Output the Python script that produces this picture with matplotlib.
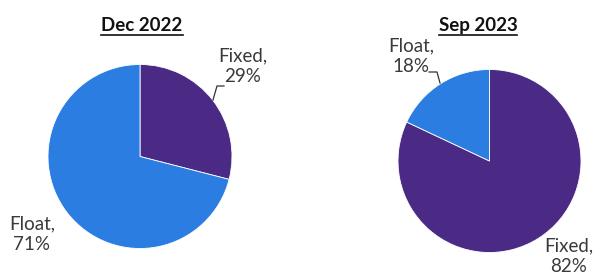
import matplotlib
matplotlib.use('Agg')
import matplotlib.pyplot as plt
from matplotlib.lines import Line2D

plt.rcParams['font.family'] = ['Lato', 'DejaVu Sans']

titles = ['Dec 2022', 'Sep 2023']
labels = ['Fixed', 'Float']
dec_values = [29, 71]
sep_values = [82, 18]
colors = ['#4B2A85', '#2B7DE1']

W, H = 593, 275
fig = plt.figure(figsize=(W / 100, H / 100), dpi=100)


def px_axes(cx, cy, r):
    return fig.add_axes([(cx - r) / W, (H - cy - r) / H, 2 * r / W, 2 * r / H])


def fpos(x, y):
    return x / W, 1 - y / H


ax1 = px_axes(140, 156.5, 92)
ax2 = px_axes(489.5, 161, 91.5)

for ax, vals in [(ax1, dec_values), (ax2, sep_values)]:
    ax.pie(vals, colors=colors, startangle=90, counterclock=False,
           wedgeprops=dict(edgecolor='white', linewidth=0.6))
    ax.set_xlim(-1, 1)
    ax.set_ylim(-1, 1)
    ax.set_aspect('auto')
    ax.axis('off')

# titles with underline
title_pos = [(142, 26), (478, 26)]
tobjs = []
for t, (x, y) in zip(titles, title_pos):
    tobjs.append(fig.text(*fpos(x, y), t, ha='center', va='center',
                          fontsize=13.5, fontweight='bold', color='#111111'))

fig.canvas.draw()
r = fig.canvas.get_renderer()
for tt in tobjs:
    bb = tt.get_window_extent(r)
    yy = (bb.y0 - 0.5) / H
    fig.add_artist(Line2D([bb.x0 / W, bb.x1 / W], [yy, yy],
                          transform=fig.transFigure, color='#111111', lw=1.2))

lab_kw = dict(fontsize=13.5, color='#3a3a3a', linespacing=1.25, va='center')
# Dec 2022 labels
fig.text(*fpos(243, 66), f'{labels[0]},\n{dec_values[0]}%', ha='center', **lab_kw)
fig.text(*fpos(32, 234), f'{labels[1]},\n{dec_values[1]}%', ha='center', **lab_kw)
# Sep 2023 labels
fig.text(*fpos(411, 56), f'{labels[1]},\n{sep_values[1]}%', ha='center', **lab_kw)
fig.text(*fpos(569, 256), f'{labels[0]},\n{sep_values[0]}%', ha='center', **lab_kw)

# leader lines
for xs, ys in [([213, 217, 224], [100, 86, 86]), ([429, 437, 440], [72, 72, 83])]:
    fig.add_artist(Line2D([x / W for x in xs], [1 - y / H for y in ys],
                          transform=fig.transFigure, color='#333333', lw=0.9))

fig.savefig('out.png', dpi=100)
